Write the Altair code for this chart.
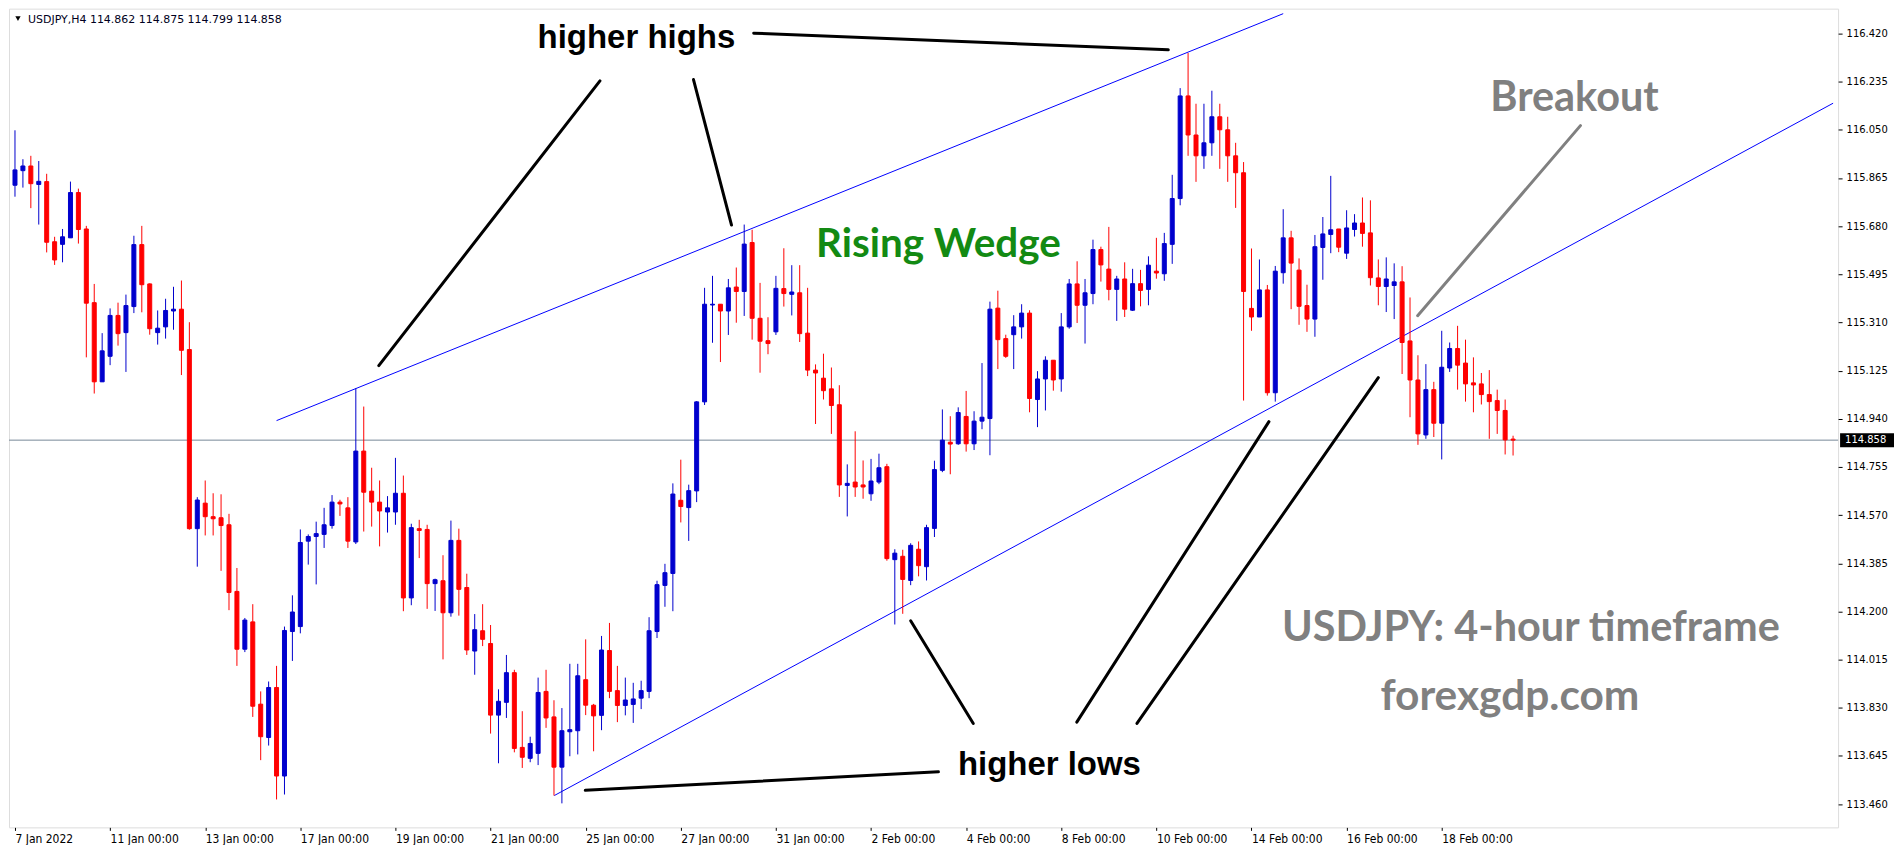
import altair as alt
import pandas as pd

# ---------------- candle data (USDJPY H4, bar index 0 = 7 Jan 2022 00:00) ----------------
OPEN = [115.837, 115.893, 115.911, 115.840, 115.851, 115.620, 115.610, 115.635, 115.809, 115.669,
        115.386, 115.082, 115.180, 115.337, 115.271, 115.371, 115.609, 115.458, 115.271, 115.293,
        115.354, 115.361, 115.206, 114.518, 114.616, 114.564, 114.560, 114.533, 114.277, 114.055,
        114.160, 113.844, 113.716, 113.908, 113.568, 114.123, 114.142, 114.470, 114.488, 114.496,
        114.530, 114.620, 114.598, 114.467, 114.816, 114.662, 114.620, 114.582, 114.582, 114.654,
        114.252, 114.518, 114.515, 114.307, 114.318, 114.195, 114.473, 114.292, 114.048, 114.126,
        114.077, 113.802, 113.851, 113.965, 113.678, 113.636, 113.655, 113.893, 113.795, 113.602,
        113.738, 113.742, 113.938, 113.840, 113.801, 114.050, 113.896, 113.839, 113.843, 113.867,
        113.893, 114.123, 114.300, 114.346, 114.627, 114.599, 114.663, 115.005, 115.377, 115.380,
        115.354, 115.446, 115.429, 115.617, 115.326, 115.240, 115.274, 115.440, 115.418, 115.424,
        115.269, 115.127, 115.096, 115.055, 114.994, 114.684, 114.697, 114.686, 114.652, 114.697,
        114.756, 114.399, 114.412, 114.319, 114.439, 114.372, 114.519, 114.742, 114.850, 114.844,
        114.949, 114.844, 114.931, 114.941, 115.365, 115.248, 115.263, 115.293, 115.346, 115.014,
        115.093, 115.165, 115.093, 115.293, 115.458, 115.376, 115.421, 115.590, 115.515, 115.437,
        115.477, 115.357, 115.459, 115.437, 115.507, 115.497, 115.610, 115.786, 116.180, 116.030,
        115.950, 116.000, 116.100, 116.050, 115.950, 115.885, 115.364, 115.331, 115.435, 115.040,
        115.501, 115.635, 115.511, 115.375, 115.323, 115.598, 115.648, 115.669, 115.576, 115.667,
        115.692, 115.654, 115.481, 115.448, 115.452, 115.466, 115.239, 115.089, 114.878, 115.052,
        114.923, 115.135, 115.210, 115.154, 115.078, 115.074, 115.033, 115.010, 114.972, 114.862]
HIGH = [116.048, 115.937, 115.950, 115.930, 115.881, 115.639, 115.669, 115.851, 115.824, 115.681,
        115.458, 115.269, 115.364, 115.386, 115.417, 115.643, 115.681, 115.460, 115.356, 115.401,
        115.447, 115.471, 115.311, 114.639, 114.703, 114.654, 114.650, 114.575, 114.367, 114.175,
        114.228, 113.893, 113.931, 113.991, 114.142, 114.262, 114.515, 114.496, 114.545, 114.598,
        114.647, 114.629, 114.639, 115.057, 114.987, 114.752, 114.703, 114.643, 114.790, 114.722,
        114.537, 114.552, 114.533, 114.326, 114.416, 114.549, 114.518, 114.345, 114.190, 114.228,
        114.148, 113.901, 114.033, 113.976, 113.817, 113.719, 113.946, 113.976, 113.859, 113.829,
        113.999, 113.999, 114.093, 113.845, 114.106, 114.156, 113.991, 113.946, 113.926, 113.934,
        114.178, 114.318, 114.383, 114.692, 114.783, 114.687, 115.008, 115.443, 115.489, 115.380,
        115.477, 115.521, 115.686, 115.666, 115.462, 115.330, 115.489, 115.595, 115.530, 115.530,
        115.443, 115.149, 115.190, 115.137, 115.069, 114.765, 114.892, 114.780, 114.786, 114.806,
        114.767, 114.439, 114.437, 114.462, 114.469, 114.533, 114.779, 114.976, 114.950, 114.984,
        115.047, 114.969, 115.154, 115.390, 115.432, 115.263, 115.338, 115.380, 115.357, 115.123,
        115.180, 115.165, 115.346, 115.477, 115.545, 115.477, 115.628, 115.601, 115.677, 115.489,
        115.541, 115.516, 115.512, 115.564, 115.635, 115.654, 115.877, 116.210, 116.345, 116.150,
        116.150, 116.200, 116.150, 116.100, 116.000, 115.926, 115.594, 115.552, 115.454, 115.527,
        115.745, 115.662, 115.556, 115.455, 115.646, 115.715, 115.873, 115.669, 115.741, 115.726,
        115.790, 115.779, 115.552, 115.560, 115.537, 115.526, 115.406, 115.184, 115.150, 115.082,
        115.278, 115.233, 115.297, 115.244, 115.176, 115.116, 115.127, 115.052, 115.014, 114.875]
LOW = [115.793, 115.828, 115.749, 115.686, 115.579, 115.531, 115.541, 115.635, 115.613, 115.176,
       115.037, 115.082, 115.146, 115.221, 115.120, 115.346, 115.349, 115.263, 115.225, 115.248,
       115.282, 115.108, 114.514, 114.372, 114.492, 114.492, 114.356, 114.205, 113.991, 114.044,
       113.795, 113.629, 113.685, 113.478, 113.497, 114.010, 114.116, 114.380, 114.304, 114.444,
       114.518, 114.567, 114.444, 114.459, 114.507, 114.526, 114.450, 114.503, 114.533, 114.201,
       114.224, 114.405, 114.210, 114.202, 114.016, 114.180, 114.184, 114.033, 113.957, 114.067,
       113.731, 113.617, 113.791, 113.659, 113.599, 113.621, 113.610, 113.753, 113.493, 113.463,
       113.644, 113.651, 113.802, 113.663, 113.744, 113.867, 113.775, 113.801, 113.772, 113.825,
       113.867, 114.098, 114.218, 114.201, 114.542, 114.471, 114.620, 114.993, 115.232, 115.158,
       115.262, 115.309, 115.335, 115.244, 115.117, 115.188, 115.262, 115.371, 115.337, 115.235,
       115.104, 114.920, 115.014, 114.882, 114.640, 114.565, 114.640, 114.633, 114.625, 114.689,
       114.395, 114.150, 114.191, 114.301, 114.335, 114.319, 114.486, 114.735, 114.727, 114.840,
       114.814, 114.820, 114.900, 114.800, 115.131, 115.174, 115.131, 115.248, 114.965, 114.908,
       114.972, 115.048, 115.044, 115.286, 115.308, 115.229, 115.380, 115.467, 115.395, 115.316,
       115.331, 115.354, 115.372, 115.376, 115.478, 115.470, 115.535, 115.760, 115.950, 115.850,
       115.900, 115.950, 115.900, 115.850, 115.750, 115.010, 115.278, 115.331, 115.029, 115.006,
       115.459, 115.361, 115.301, 115.274, 115.255, 115.474, 115.576, 115.580, 115.554, 115.640,
       115.601, 115.452, 115.376, 115.350, 115.323, 115.112, 114.946, 114.840, 114.863, 114.870,
       114.784, 115.120, 115.052, 115.006, 114.965, 114.995, 114.863, 114.882, 114.803, 114.799]
CLOSE = [115.896, 115.911, 115.843, 115.852, 115.618, 115.550, 115.639, 115.809, 115.667, 115.384,
         115.082, 115.201, 115.337, 115.267, 115.375, 115.609, 115.455, 115.286, 115.288, 115.356,
         115.361, 115.203, 114.518, 114.628, 114.564, 114.556, 114.530, 114.273, 114.055, 114.167,
         113.836, 113.719, 113.908, 113.568, 114.127, 114.198, 114.465, 114.488, 114.499, 114.533,
         114.620, 114.613, 114.470, 114.816, 114.658, 114.620, 114.586, 114.598, 114.654, 114.252,
         114.522, 114.511, 114.307, 114.322, 114.195, 114.473, 114.285, 114.052, 114.130, 114.093,
         113.802, 113.855, 113.965, 113.674, 113.640, 113.693, 113.889, 113.791, 113.602, 113.742,
         113.746, 113.953, 113.840, 113.799, 114.052, 113.893, 113.839, 113.860, 113.864, 113.896,
         114.126, 114.303, 114.349, 114.651, 114.603, 114.664, 115.005, 115.380, 115.380, 115.354,
         115.443, 115.429, 115.611, 115.326, 115.238, 115.229, 115.441, 115.421, 115.427, 115.267,
         115.127, 115.116, 115.048, 114.991, 114.686, 114.692, 114.678, 114.678, 114.701, 114.752,
         114.403, 114.424, 114.323, 114.454, 114.376, 114.522, 114.745, 114.858, 114.843, 114.964,
         114.844, 114.931, 114.946, 115.361, 115.244, 115.180, 115.293, 115.346, 115.018, 115.093,
         115.165, 115.089, 115.293, 115.458, 115.376, 115.424, 115.590, 115.531, 115.437, 115.477,
         115.361, 115.459, 115.433, 115.530, 115.500, 115.613, 115.786, 116.180, 116.030, 115.950,
         116.000, 116.100, 116.050, 115.950, 115.885, 115.429, 115.331, 115.435, 115.040, 115.507,
         115.635, 115.538, 115.372, 115.323, 115.601, 115.650, 115.666, 115.599, 115.673, 115.692,
         115.652, 115.482, 115.448, 115.477, 115.466, 115.233, 115.089, 114.882, 115.052, 114.923,
         115.138, 115.210, 115.146, 115.074, 115.070, 115.033, 115.006, 114.972, 114.859, 114.858]

X_TICK_BARS = [0, 12, 24, 36, 48, 60, 72, 84, 96, 108, 120, 132, 144, 156, 168, 180]
X_TICK_LABELS = ["7 Jan 2022", "11 Jan 00:00", "13 Jan 00:00", "17 Jan 00:00", "19 Jan 00:00",
                 "21 Jan 00:00", "25 Jan 00:00", "27 Jan 00:00", "31 Jan 00:00", "2 Feb 00:00",
                 "4 Feb 00:00", "8 Feb 00:00", "10 Feb 00:00", "14 Feb 00:00", "16 Feb 00:00",
                 "18 Feb 00:00"]
Y_TICKS = [113.460, 113.645, 113.830, 114.015, 114.200, 114.385, 114.570, 114.755, 114.940,
           115.125, 115.310, 115.495, 115.680, 115.865, 116.050, 116.235, 116.420]
LAST_PRICE = 114.858
INFO_TEXT = "USDJPY,H4  114.862 114.875 114.799 114.858"

# wedge trend lines (bar index / price end points)
TREND_I1 = [33.0, 68.04]
TREND_P1 = [114.933, 113.493]
TREND_I2 = [160.0, 229.375]
TREND_P2 = [116.496, 116.152]

# black pointer lines
PTR_I1 = [45.9, 85.6, 93.2, 71.95, 113.0, 158.2, 172.0]
PTR_P1 = [115.144, 116.243, 116.421, 113.513, 114.164, 114.929, 115.098]
PTR_I2 = [73.8, 90.4, 145.5, 116.5, 120.9, 133.96, 141.55]
PTR_P2 = [116.238, 115.684, 116.357, 113.584, 113.770, 113.775, 113.770]

# grey breakout pointer
BRK_I = [176.96, 197.5]
BRK_P = [115.336, 116.066]

# annotation texts
LABEL_TEXT = ["higher highs", "higher lows", "Rising Wedge", "Breakout",
              "USDJPY: 4-hour timeframe", "forexgdp.com"]
LABEL_I = [78.4, 130.5, 116.5, 196.75, 191.25, 188.6]
LABEL_P = [116.401, 113.609, 115.609, 116.167, 114.133, 113.873]

W, H = 1832, 820

df = pd.DataFrame({"i": list(range(len(OPEN))), "o": OPEN, "h": HIGH, "l": LOW, "c": CLOSE})
df["dir"] = ["up" if c >= o else "down" for o, c in zip(OPEN, CLOSE)]

XS = alt.Scale(domain=[-0.125, 229.375], nice=False, zero=False)
YS = alt.Scale(domain=[113.390, 116.496], nice=False, zero=False)

label_expr = "[" + ",".join("'" + t + "'" for t in X_TICK_LABELS) + "][round(datum.value/12)]"
XAXIS = alt.Axis(values=X_TICK_BARS, labelExpr=label_expr, title=None, grid=False, domain=False,
                 tickSize=3, tickColor="black", labelAlign="left", labelBaseline="top",
                 labelPadding=3, labelFont="DejaVu Sans Condensed", labelFontSize=12,
                 labelColor="black", labelFlush=False, labelOverlap=False)
YAXIS = alt.Axis(orient="right", values=Y_TICKS, format=".3f", title=None, grid=False,
                 domain=False, tickSize=4, tickColor="black", labelPadding=4,
                 labelFont="DejaVu Sans", labelFontSize=10, labelColor="black",
                 labelOverlap=False, labelFlush=False)


def X(field):
    return alt.X(field, type="quantitative", scale=XS, axis=XAXIS)


def Y(field):
    return alt.Y(field, type="quantitative", scale=YS, axis=YAXIS)


color = alt.Color("dir:N", scale=alt.Scale(domain=["up", "down"], range=["#0000cd", "#ff0000"]),
                  legend=None)
stroke = alt.Stroke("dir:N", scale=alt.Scale(domain=["up", "down"], range=["#0000cd", "#ff0000"]),
                    legend=None)

base = alt.Chart(df)
wicks = base.mark_rule(strokeWidth=1).encode(x=X("i"), y=Y("l"), y2="h", color=color)
bodies = base.mark_bar(size=4, strokeWidth=1).encode(x=X("i"), y=Y("o"), y2="c",
                                                        color=color, stroke=stroke)

last_df = pd.DataFrame({"p": [LAST_PRICE], "t": [f"{LAST_PRICE:.3f}"]})
last_line = alt.Chart(last_df).mark_rule(color="#778899", strokeWidth=1).encode(y=Y("p"))
last_box = alt.Chart(last_df).mark_bar(size=14, color="black").encode(
    y=Y("p"), x=alt.value(W + 2), x2=alt.value(W + 56))
last_txt = alt.Chart(last_df).mark_text(align="left", baseline="middle", font="DejaVu Sans",
                                        fontSize=10, color="white").encode(
    y=Y("p"), x=alt.value(W + 7), text="t:N")

trend_df = pd.DataFrame({"i1": TREND_I1, "p1": TREND_P1, "i2": TREND_I2, "p2": TREND_P2})
trend = alt.Chart(trend_df).mark_rule(color="#0000ff", strokeWidth=1).encode(
    x=X("i1"), y=Y("p1"), x2="i2", y2="p2")

ptr_df = pd.DataFrame({"i1": PTR_I1, "p1": PTR_P1, "i2": PTR_I2, "p2": PTR_P2})
ptrs = alt.Chart(ptr_df).mark_rule(color="black", strokeWidth=3, strokeCap="round").encode(
    x=X("i1"), y=Y("p1"), x2="i2", y2="p2")

brk_df = pd.DataFrame({"i1": [BRK_I[0]], "p1": [BRK_P[0]], "i2": [BRK_I[1]], "p2": [BRK_P[1]]})
brk = alt.Chart(brk_df).mark_rule(color="#808080", strokeWidth=3, strokeCap="round").encode(
    x=X("i1"), y=Y("p1"), x2="i2", y2="p2")

lab_df = pd.DataFrame({"t": LABEL_TEXT, "i": LABEL_I, "p": LABEL_P})


def label_layer(texts, font, size, col):
    return alt.Chart(lab_df).transform_filter(
        alt.FieldOneOfPredicate(field="t", oneOf=texts)
    ).mark_text(font=font, fontSize=size, fontWeight="bold", color=col,
                align="center", baseline="middle").encode(x=X("i"), y=Y("p"), text="t:N")


lab_black = label_layer(["higher highs", "higher lows"], "Liberation Sans", 33, "black")
lab_green = label_layer(["Rising Wedge"], "Lato", 40.5, "#138a13")
lab_grey = label_layer(["Breakout", "USDJPY: 4-hour timeframe"], "Lato", 41.5, "#808080")
lab_site = label_layer(["forexgdp.com"], "Lato", 42.5, "#808080")

info_df = pd.DataFrame({"t": [INFO_TEXT]})
info_tri = alt.Chart(info_df).mark_point(shape="triangle-down", filled=True, size=28,
                                          color="black", opacity=1).encode(
    x=alt.value(9), y=alt.value(10))
info_txt = alt.Chart(info_df).mark_text(align="left", baseline="middle", font="DejaVu Sans",
                                        fontSize=11, color="#000020").encode(
    x=alt.value(19), y=alt.value(11), text="t:N")

chart = alt.layer(
    last_line, trend, wicks, bodies, ptrs, brk, lab_black, lab_green, lab_grey, lab_site,
    last_box, last_txt, info_tri, info_txt
).properties(
    width=W, height=H, padding={"left": 0, "top": 0, "right": 0, "bottom": 0}
).configure_view(
    stroke="black", strokeWidth=1
).configure(background="white")

chart.save("out.html", embed_options={"renderer": "svg", "actions": False})
